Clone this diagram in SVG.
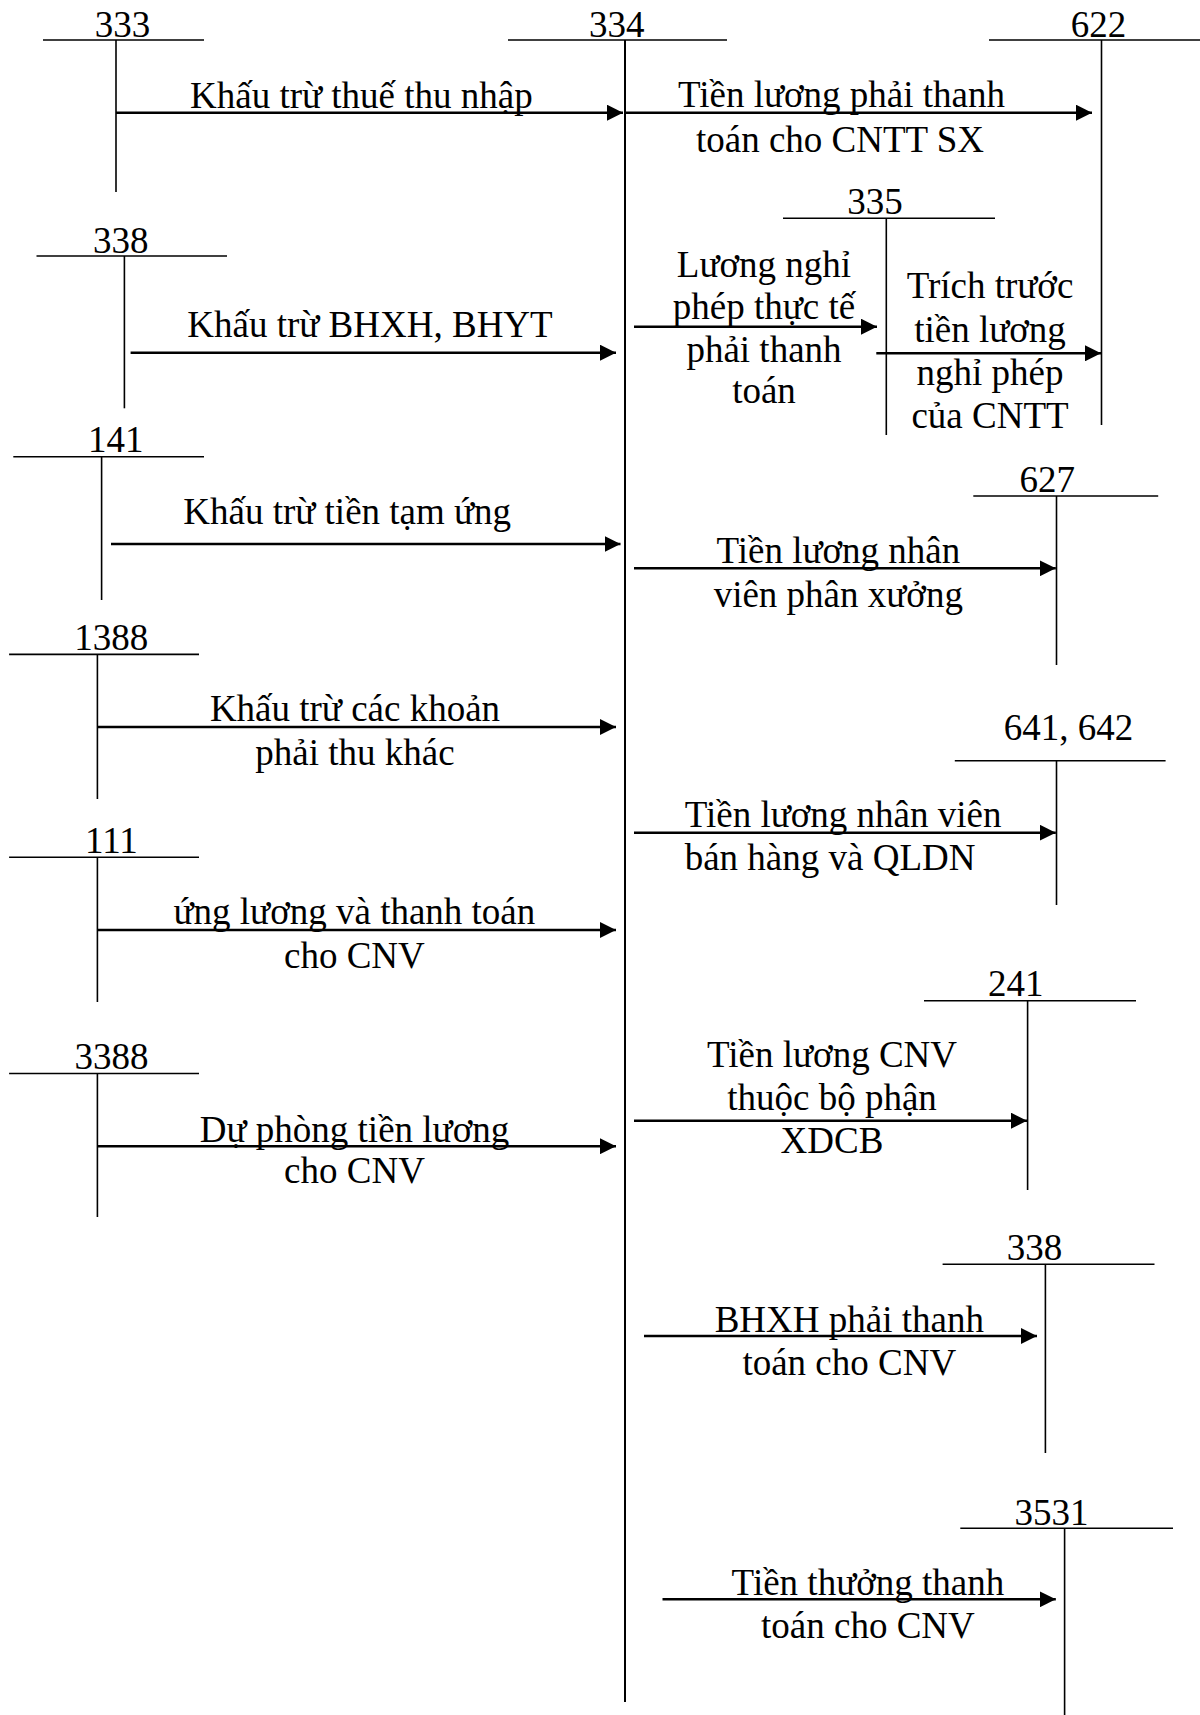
<svg xmlns="http://www.w3.org/2000/svg" width="1200" height="1715" viewBox="0 0 1200 1715">
<style>
text{font-family:"Liberation Serif","Times New Roman",serif;font-size:37px;fill:#000;text-anchor:middle}
.t line{stroke:#000;stroke-width:1.6}
.c line{stroke:#000;stroke-width:2.4}
.l{text-anchor:start}
</style>
<defs>
<marker id="ah" markerUnits="userSpaceOnUse" markerWidth="16" markerHeight="16" refX="16" refY="8" orient="auto">
<path d="M0,0 L16,8 L0,16 z" fill="#000"/>
</marker>
</defs>
<rect width="1200" height="1715" fill="#fff"/>
<g class="t">
<g id="n333"><line x1="43" y1="40" x2="204" y2="40"/><line x1="116" y1="40" x2="116" y2="192"/><text x="122.5" y="36.7">333</text></g>
<g id="n334"><line x1="508" y1="40" x2="727" y2="40"/><line x1="625" y1="40" x2="625" y2="1702" style="stroke-width:2"/><text x="616.7" y="36.7">334</text></g>
<g id="n622"><line x1="989" y1="40" x2="1200" y2="40"/><line x1="1101.5" y1="40" x2="1101.5" y2="425"/><text x="1098.4" y="36.7">622</text></g>
<g id="n335"><line x1="783" y1="218.3" x2="995" y2="218.3"/><line x1="886.3" y1="218.3" x2="886.3" y2="435"/><text x="875" y="214">335</text></g>
<g id="n338a"><line x1="36.5" y1="256" x2="227" y2="256"/><line x1="124.4" y1="256" x2="124.4" y2="408.3"/><text x="120.8" y="252.7">338</text></g>
<g id="n141"><line x1="13.3" y1="456.7" x2="204" y2="456.7"/><line x1="101.6" y1="456.7" x2="101.6" y2="600"/><text x="115.7" y="452.3">141</text></g>
<g id="n627"><line x1="973.3" y1="496" x2="1158.2" y2="496"/><line x1="1056.5" y1="496" x2="1056.5" y2="665"/><text x="1047.3" y="491.7">627</text></g>
<g id="n1388"><line x1="9.1" y1="654.4" x2="199" y2="654.4"/><line x1="97.4" y1="654.4" x2="97.4" y2="799"/><text x="111.3" y="650.3">1388</text></g>
<g id="n641"><line x1="954.8" y1="760.7" x2="1165.6" y2="760.7"/><line x1="1056.5" y1="760.7" x2="1056.5" y2="905"/><text x="1068.5" y="740">641, 642</text></g>
<g id="n111"><line x1="9.1" y1="857.3" x2="199" y2="857.3"/><line x1="97.4" y1="857.3" x2="97.4" y2="1002"/><text x="111.5" y="853.4">111</text></g>
<g id="n241"><line x1="924" y1="1000.7" x2="1136" y2="1000.7"/><line x1="1027.6" y1="1000.7" x2="1027.6" y2="1190"/><text x="1015.8" y="995.7">241</text></g>
<g id="n3388"><line x1="9.1" y1="1073.5" x2="199" y2="1073.5"/><line x1="97.4" y1="1073.5" x2="97.4" y2="1217"/><text x="111.5" y="1068.5">3388</text></g>
<g id="n338b"><line x1="942.6" y1="1264.3" x2="1154.5" y2="1264.3"/><line x1="1045.4" y1="1264.3" x2="1045.4" y2="1453"/><text x="1034.4" y="1260">338</text></g>
<g id="n3531"><line x1="960.3" y1="1528.3" x2="1173" y2="1528.3"/><line x1="1064.6" y1="1528.3" x2="1064.6" y2="1715"/><text x="1051.6" y="1525">3531</text></g>
</g>
<g id="connectors" class="c">
<line x1="116" y1="112.7" x2="623" y2="112.7" marker-end="url(#ah)"/>
<line x1="625" y1="112.7" x2="1092" y2="112.7" marker-end="url(#ah)"/>
<line x1="130.6" y1="352.7" x2="616" y2="352.7" marker-end="url(#ah)"/>
<line x1="634" y1="326.7" x2="877" y2="326.7" marker-end="url(#ah)"/>
<line x1="876.3" y1="353.3" x2="1101" y2="353.3" marker-end="url(#ah)"/>
<line x1="111" y1="544" x2="620.5" y2="544" marker-end="url(#ah)"/>
<line x1="634" y1="568.3" x2="1055.8" y2="568.3" marker-end="url(#ah)"/>
<line x1="97.4" y1="727" x2="616" y2="727" marker-end="url(#ah)"/>
<line x1="634" y1="832.7" x2="1055.8" y2="832.7" marker-end="url(#ah)"/>
<line x1="97.4" y1="930" x2="616" y2="930" marker-end="url(#ah)"/>
<line x1="634" y1="1120.7" x2="1027" y2="1120.7" marker-end="url(#ah)"/>
<line x1="97.4" y1="1146.2" x2="616" y2="1146.2" marker-end="url(#ah)"/>
<line x1="644" y1="1336" x2="1037" y2="1336" marker-end="url(#ah)"/>
<line x1="662.5" y1="1599.3" x2="1055.8" y2="1599.3" marker-end="url(#ah)"/>
</g>
<g id="edge-labels">
<text x="361.4" y="108.3">Khấu trừ thuế thu nhập</text>
<text x="841.5" y="107.3">Tiền lương phải thanh</text>
<text x="840" y="151.7">toán cho CNTT SX</text>
<text x="370" y="336.7">Khấu trừ BHXH, BHYT</text>
<text x="764" y="276.7">Lương nghỉ</text>
<text x="764" y="319">phép thực tế</text>
<text x="764" y="361.7">phải thanh</text>
<text x="764" y="403.3">toán</text>
<text x="990" y="298.3">Trích trước</text>
<text x="990" y="341.7">tiền lương</text>
<text x="990" y="385">nghỉ phép</text>
<text x="990" y="428.3">của CNTT</text>
<text x="347.2" y="524">Khấu trừ tiền tạm ứng</text>
<text x="838.3" y="563.3">Tiền lương nhân</text>
<text x="838.3" y="606.7">viên phân xưởng</text>
<text x="355" y="721.4">Khấu trừ các khoản</text>
<text x="355" y="765.4">phải thu khác</text>
<text class="l" x="684.7" y="826.7">Tiền lương nhân viên</text>
<text class="l" x="684.7" y="870">bán hàng và QLDN</text>
<text x="354.4" y="924.2">ứng lương và thanh toán</text>
<text x="354.4" y="967.5">cho CNV</text>
<text x="832" y="1067.3">Tiền lương CNV</text>
<text x="832" y="1110">thuộc bộ phận</text>
<text x="832" y="1153.3">XDCB</text>
<text x="354.5" y="1142.4">Dự phòng tiền lương</text>
<text x="354.5" y="1182.6">cho CNV</text>
<text x="849.3" y="1331.7">BHXH phải thanh</text>
<text x="849.3" y="1375">toán cho CNV</text>
<text x="867.9" y="1595">Tiền thưởng thanh</text>
<text x="867.9" y="1638.3">toán cho CNV</text>
</g>
</svg>
